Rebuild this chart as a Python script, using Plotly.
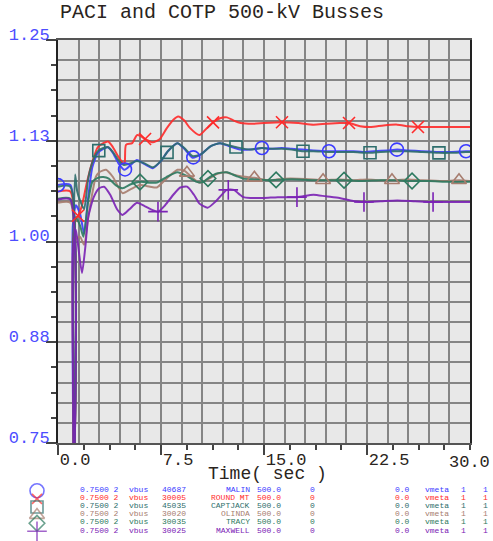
import numpy as np
import plotly.graph_objects as go

W, H = 493, 541
# plot-area box (pixels)
PL, PR, PT, PB = 58, 470, 40, 443

title_text = "PACI and COTP 500-kV Busses"
x_title = "Time( sec )"
x_tickvals = [0, 7.5, 15, 22.5]
x_ticktext = ["0.0", "7.5", "15.0", "22.5"]
x_last_label = "30.0"
y_tickvals = [0.75, 0.875, 1.0, 1.125, 1.25]
y_ticktext = ["0.75", "0.88", "1.00", "1.13", "1.25"]

names = ["MALIN", "ROUND MT", "CAPTJACK", "OLINDA", "TRACY", "MAXWELL"]
bus_nums = ["40687", "30005", "45035", "30020", "30035", "30025"]
colors = ["#3b3bff", "#ff2b2b", "#2e6e6c", "#a77d6f", "#2d7a60", "#7b22b5"]
symbols = ["circle-open", "x-thin-open", "square-open", "triangle-up-open", "diamond-open", "cross-thin-open"]
msizes = [13, 12, 12, 13, 12, 14]

t_malin = [0, 0.9, 0.92, 1.05, 1.08, 1.3, 1.6, 1.9, 2.2, 2.5, 2.9, 3.3, 3.65, 4.0, 4.4, 4.85, 5.3, 5.75, 6.3, 6.9,
           7.5, 8.0, 8.7, 9.2, 9.8, 10.4, 11.1, 11.8, 12.5, 13.25, 14.0, 14.85, 15.5, 16.3, 17.0, 17.8, 18.6, 19.7,
           20.5, 21.5, 22.2, 23.0, 24.0, 24.7, 25.5, 26.5, 27.7, 28.6, 29.7, 30]
v_malin = [1.070, 1.070, 0.30, 0.30, 1.02, 1.045, 1.035, 1.010, 1.055, 1.092, 1.110, 1.115, 1.117, 1.110, 1.097,
           1.089, 1.095, 1.101, 1.096, 1.091, 1.100, 1.112, 1.122, 1.115, 1.104, 1.108, 1.118, 1.122, 1.118, 1.114,
           1.114, 1.116, 1.115, 1.116, 1.115, 1.114, 1.113, 1.112, 1.112, 1.112, 1.111, 1.112, 1.113, 1.114, 1.113,
           1.112, 1.111, 1.111, 1.112, 1.112]

t_round = [0, 0.9, 0.92, 1.05, 1.1, 1.3, 1.5, 1.75, 2.1, 2.5, 2.9, 3.3, 3.65, 4.0, 4.4, 4.75, 4.85, 4.95, 5.4, 5.75,
           6.0, 6.35, 6.9, 7.4, 7.9, 8.4, 8.75, 9.2, 9.6, 10.3, 10.8, 11.3, 11.8, 12.3, 12.8, 13.3, 14.2, 15.0, 16.3,
           17.5, 18.6, 19.5, 20.5, 21.2, 22.0, 22.8, 23.7, 24.7, 25.5, 26.2, 27.5, 28.5, 30]
v_round = [1.062, 1.062, 0.30, 0.30, 1.00, 1.028, 1.033, 1.045, 1.073, 1.099, 1.117, 1.122, 1.124, 1.117, 1.105,
           1.097, 1.097, 1.120, 1.122, 1.132, 1.131, 1.127, 1.123, 1.127, 1.140, 1.151, 1.155, 1.150, 1.141, 1.132,
           1.140, 1.148, 1.153, 1.154, 1.150, 1.147, 1.146, 1.147, 1.148, 1.147, 1.145, 1.146, 1.147, 1.147, 1.143,
           1.142, 1.144, 1.145, 1.143, 1.142, 1.142, 1.142, 1.142]

t_capt = [0, 0.9, 0.92, 1.05, 1.1, 1.25, 1.4, 1.6, 1.9, 2.2, 2.5, 2.9, 3.3, 3.65, 4.0, 4.4, 4.8, 5.3, 5.75, 6.3, 6.9,
          7.5, 8.0, 8.7, 9.2, 9.8, 10.4, 11.1, 11.8, 12.5, 13.0, 14.0, 14.85, 15.5, 16.3, 17.0, 17.84, 18.6, 19.7,
          20.5, 21.5, 22.7, 23.5, 24.5, 25.5, 26.5, 27.7, 28.6, 29.7, 30]
v_capt = [1.068, 1.068, 0.30, 0.30, 0.98, 1.083, 1.062, 1.051, 1.040, 1.078, 1.098, 1.112, 1.116, 1.117, 1.111,
          1.101, 1.095, 1.097, 1.100, 1.097, 1.092, 1.100, 1.112, 1.122, 1.116, 1.106, 1.108, 1.118, 1.122, 1.119,
          1.117, 1.114, 1.116, 1.115, 1.115, 1.114, 1.112, 1.112, 1.111, 1.111, 1.111, 1.110, 1.111, 1.112, 1.112,
          1.111, 1.110, 1.110, 1.111, 1.111]

t_olinda = [0, 0.9, 0.92, 1.05, 1.1, 1.3, 1.6, 1.9, 2.2, 2.5, 2.75, 3.0, 3.5, 4.0, 4.7, 5.3, 5.97, 6.7, 7.2, 7.9,
            8.7, 9.2, 9.6, 10.3, 10.9, 11.6, 12.2, 12.8, 13.3, 14.3, 15.4, 16.5, 17.5, 18.6, 19.3, 20.5, 21.5, 22.5,
            23.5, 24.3, 25.5, 26.5, 28.0, 29.2, 30]
v_olinda = [1.048, 1.048, 0.30, 0.30, 0.97, 1.002, 1.006, 0.996, 1.030, 1.060, 1.080, 1.086, 1.089, 1.080, 1.060,
            1.065, 1.070, 1.068, 1.067, 1.078, 1.089, 1.088, 1.082, 1.073, 1.077, 1.084, 1.086, 1.083, 1.081, 1.079,
            1.076, 1.078, 1.078, 1.077, 1.076, 1.077, 1.076, 1.077, 1.076, 1.076, 1.077, 1.076, 1.075, 1.076, 1.075]

t_tracy = [0, 0.9, 0.92, 1.05, 1.1, 1.3, 1.6, 1.85, 2.2, 2.5, 2.9, 3.3, 3.7, 4.2, 4.7, 5.3, 6.0, 6.6, 7.2, 7.9, 8.7,
           9.3, 10.1, 10.6, 10.9, 11.5, 12.3, 13.0, 13.5, 14.3, 15.4, 16.5, 17.5, 18.5, 19.5, 20.8, 22.0, 23.5, 24.5,
           25.8, 27.0, 28.5, 30]
v_tracy = [1.053, 1.053, 0.30, 0.30, 0.98, 1.030, 1.020, 1.006, 1.050, 1.074, 1.079, 1.080, 1.078, 1.070, 1.066,
           1.071, 1.074, 1.073, 1.073, 1.080, 1.086, 1.082, 1.074, 1.074, 1.078, 1.084, 1.086, 1.081, 1.078, 1.077,
           1.076, 1.077, 1.077, 1.076, 1.076, 1.076, 1.075, 1.076, 1.076, 1.075, 1.075, 1.074, 1.074]

t_maxwell = [0, 0.9, 0.92, 1.05, 1.1, 1.3, 1.5, 1.75, 2.0, 2.2, 2.6, 3.0, 3.35, 3.8, 4.3, 4.7, 5.2, 5.75, 6.3, 6.9,
             7.3, 7.8, 8.4, 8.9, 9.4, 9.9, 10.3, 10.9, 11.5, 12.3, 12.8, 13.25, 13.5, 14.0, 15.0, 16.0, 17.4, 18.6,
             19.5, 20.5, 21.3, 22.3, 23.5, 24.7, 26.0, 27.3, 28.5, 30]
v_maxwell = [1.052, 1.052, 0.30, 0.30, 0.99, 1.015, 0.990, 0.961, 0.995, 1.030, 1.055, 1.066, 1.068, 1.058, 1.040,
             1.033, 1.040, 1.048, 1.044, 1.039, 1.037, 1.045, 1.058, 1.067, 1.068, 1.058, 1.047, 1.042, 1.050, 1.064,
             1.064, 1.058, 1.055, 1.054, 1.054, 1.055, 1.055, 1.058, 1.056, 1.054, 1.051, 1.049, 1.050, 1.051, 1.050,
             1.049, 1.049, 1.049]

mk_malin = [0, 4.88, 9.85, 14.85, 19.73, 24.68, 29.71]
mk_round = [1.46, 6.34, 11.29, 16.31, 21.19, 26.21]
mk_capt = [2.97, 7.94, 12.96, 17.84, 22.72, 27.74]
mk_olinda = [9.39, 14.3, 19.3, 24.32, 29.2]
mk_tracy = [5.97, 10.92, 15.88, 20.83, 25.78]
mk_maxwell = [7.28, 12.4, 17.4, 22.28, 27.31]

series_t = [t_malin, t_round, t_capt, t_olinda, t_tracy, t_maxwell]
series_v = [v_malin, v_round, v_capt, v_olinda, v_tracy, v_maxwell]
series_mk = [mk_malin, mk_round, mk_capt, mk_olinda, mk_tracy, mk_maxwell]

fig = go.Figure()

for i in range(6):
    fig.add_trace(go.Scatter(x=series_t[i], y=series_v[i], mode="lines",
                             line=dict(color=colors[i], width=2, shape="spline", smoothing=0.6),
                             opacity=0.9, showlegend=False, hoverinfo="skip"))
for i in range(6):
    mx = series_mk[i]
    my = np.interp(mx, series_t[i], series_v[i])
    fig.add_trace(go.Scatter(x=mx, y=my, mode="markers",
                             marker=dict(symbol=symbols[i], size=msizes[i], color=colors[i],
                                         line=dict(color=colors[i], width=1.6)),
                             showlegend=False, hoverinfo="skip"))

# dummy trace for grid overlay axes
fig.add_trace(go.Scatter(x=[0], y=[1.0], xaxis="x2", yaxis="y2", mode="markers",
                         marker=dict(opacity=0), showlegend=False, hoverinfo="skip"))

# legend block below the chart
ROW0 = 489.5
ROW_STEP = 8.1
LEG_MARK_X = 37
rows_y = [ROW0 + ROW_STEP * i for i in range(6)]
fig.add_trace(go.Scatter(x=[LEG_MARK_X] * 6, y=[r + 1.3 for r in rows_y], xaxis="x3", yaxis="y3",
                         mode="markers",
                         marker=dict(symbol=symbols, size=[14, 10, 12, 13, 12, 14], color=colors,
                                     line=dict(color=colors, width=1.6)),
                         showlegend=False, hoverinfo="skip"))

annotations = []
def px2paper(x, y):
    return x / W, 1 - y / H

mono = "Liberation Mono"
cols = [
    (78, "left", lambda i: "0.7500 2"),
    (127, "left", lambda i: "vbus"),
    (160, "left", lambda i: bus_nums[i]),
    (252, "right", lambda i: names[i]),
    (255, "left", lambda i: "500.0"),
    (312, "center", lambda i: "0"),
    (393, "left", lambda i: "0.0"),
    (423, "left", lambda i: "vmeta"),
    (463, "center", lambda i: "1"),
    (485, "center", lambda i: "1"),
]
for i in range(6):
    for cx, anchor, fn in cols:
        xp, yp = px2paper(cx, rows_y[i])
        annotations.append(dict(x=xp, y=yp, xref="paper", yref="paper", text=fn(i), showarrow=False,
                                xanchor=anchor, yanchor="middle",
                                font=dict(family=mono, size=8, color=colors[i])))

# title
xp, yp = px2paper(58, 13)
annotations.append(dict(x=xp, y=yp, xref="paper", yref="paper", text=title_text, showarrow=False,
                        xanchor="left", yanchor="middle", font=dict(family=mono, size=20, color="#2a2420")))
# x title
xp, yp = px2paper(267, 474)
annotations.append(dict(x=xp, y=yp, xref="paper", yref="paper", text=x_title, showarrow=False,
                        xanchor="center", yanchor="middle", font=dict(family=mono, size=18, color="#2a2420")))
# last x tick label
xp, yp = px2paper(492, 462)
annotations.append(dict(x=xp, y=yp, xref="paper", yref="paper", text=x_last_label, showarrow=False,
                        xanchor="right", yanchor="middle", font=dict(family=mono, size=17, color="#2a2420")))

xdom = [PL / W, PR / W]
ydom = [1 - PB / H, 1 - PT / H]

fig.update_layout(
    width=W, height=H,
    margin=dict(l=0, r=0, t=0, b=0, autoexpand=False),
    paper_bgcolor="white",
    plot_bgcolor="rgba(0,0,0,0)",
    showlegend=False,
    annotations=annotations,
    shapes=[dict(type="rect", xref="x domain", yref="y domain", x0=0, x1=1, y0=0, y1=1,
                 fillcolor="#e8e8e8", line=dict(width=0), layer="below")],
    xaxis=dict(domain=xdom, range=[0, 30], tickvals=x_tickvals, ticktext=x_ticktext,
               ticks="outside", ticklen=10, tickwidth=1.5, tickcolor="#444",
               ticklabelposition="outside right", automargin=False,
               tickfont=dict(family=mono, size=17, color="#2a2420"),
               minor=dict(dtick=1.875, tick0=0, ticks="outside", ticklen=5, tickcolor="#444", showgrid=False),
               showgrid=False, zeroline=False, showline=True, linecolor="#555", linewidth=2, mirror=True,
               anchor="y"),
    yaxis=dict(domain=ydom, range=[0.75, 1.25], tickvals=y_tickvals, ticktext=y_ticktext,
               ticks="outside", ticklen=10, tickwidth=1.5, tickcolor="#444",
               ticklabelposition="outside", ticklabelshift=-6, ticklabelstandoff=-7, automargin=False,
               tickfont=dict(family=mono, size=17, color="#4d4dff"),
               minor=dict(dtick=0.03125, tick0=0.75, ticks="outside", ticklen=5, tickcolor="#444", showgrid=False),
               showgrid=False, zeroline=False, showline=True, linecolor="#222", linewidth=2, mirror=True,
               anchor="x"),
    xaxis2=dict(overlaying="x", range=[0, 30], dtick=1.5, tick0=0, showgrid=True, gridcolor="#858585",
                gridwidth=1.5, showticklabels=False, ticks="", zeroline=False, showline=False, anchor="y2",
                automargin=False),
    yaxis2=dict(overlaying="y", range=[0.75, 1.25], dtick=0.025, tick0=0.75, showgrid=True, gridcolor="#858585",
                gridwidth=1.5, showticklabels=False, ticks="", zeroline=False, showline=False, anchor="x2",
                automargin=False),
    xaxis3=dict(domain=[0, 1], range=[0, W], visible=False, anchor="y3", automargin=False),
    yaxis3=dict(domain=[0, 1], range=[H, 0], visible=False, anchor="x3", automargin=False),
)

fig.write_html("out.html")
